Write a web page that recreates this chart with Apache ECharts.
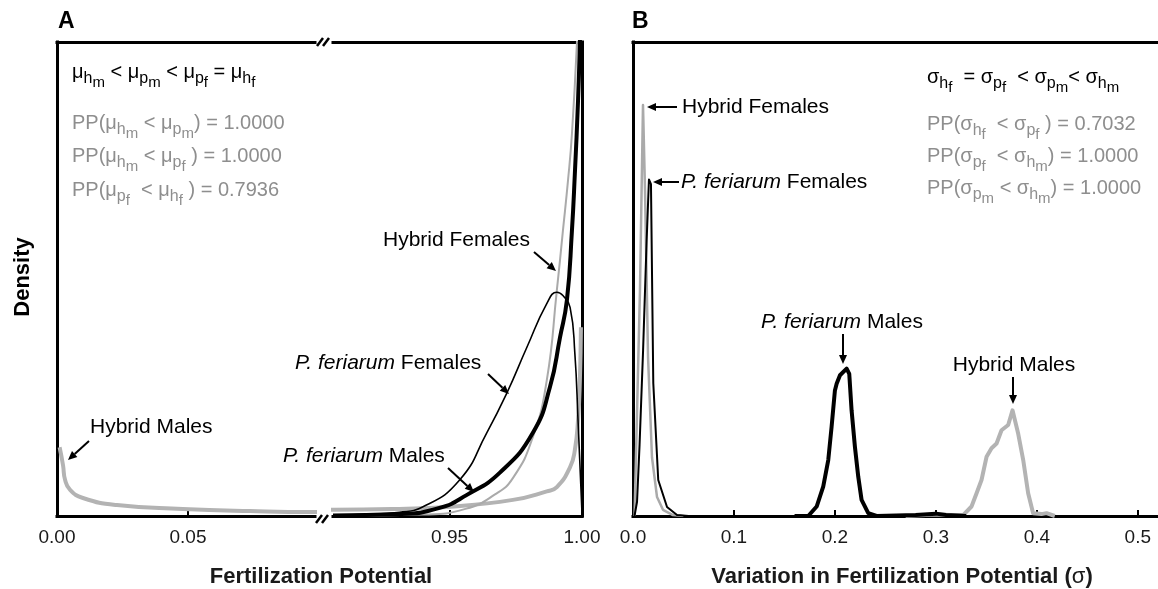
<!DOCTYPE html>
<html>
<head>
<meta charset="utf-8">
<title>Fertilization Potential</title>
<script src="https://cdn.jsdelivr.net/npm/echarts@6.0.0/dist/echarts.min.js"></script>
<style>
    html, body {margin: 0; padding: 0; background: #fff;}
    #main {width: 1158px; height: 589px;}
</style>
</head>
<body>
<div id="main"></div>
<script type="text/javascript">
// ---- data: [x, density] (density in % of panel height) ----
// panel A: fertilization potential
var hybridMalesA = [[0.001,14.5],[0.0023,10.7],[0.0031,7.6],[0.005,5.5],[0.0099,3.8],[0.0229,2.3],[0.048,1.5],[0.0737,1.05],[0.0973,0.85],
    [0.906,1.3],[0.9311,1.5],[0.9489,1.9],[0.9739,3.4],[0.9867,5.2],[0.9905,6.1],[0.9955,10.3],[0.9973,13.9],[0.9985,20.2],[0.9992,28.6],[0.9996,39.8]];
var hybridFemalesA = [[0.906,0.05],[0.94,0.3],[0.956,1.5],[0.967,4.5],[0.9739,8],[0.9814,16.6],[0.9867,28.6],[0.9905,47.6],[0.9928,60.2],
    [0.9947,70.7],[0.9962,80.6],[0.9981,100],[0.999,115]];
var feriarumFemalesA = [[0.906,0.1],[0.9159,0.3],[0.9311,0.8],[0.9398,1.9],[0.9538,7.6],[0.964,17.5],[0.9716,25.9],[0.9792,35.6],[0.9867,44.8],
    [0.9905,47.2],[0.9928,46.5],[0.9955,44],[0.9973,34.3],[0.9985,20.2],[1.0,0.6]];
var feriarumMalesA = [[0.906,0.1],[0.9311,0.4],[0.9462,1.7],[0.9564,4.4],[0.9689,9.1],[0.9814,17.5],[0.9879,27.2],[0.9917,37.7],[0.9943,45.5],
    [0.9962,60.2],[0.9973,72.2],[0.9985,87.6],[0.9992,99.8],[0.9996,110]];
// panel B: variation in fertilization potential (sigma)
var hybridFemalesB = [[0.0015,0],[0.0069,47.6],[0.0099,86.7],[0.0119,68.6],[0.0149,33.5],[0.0188,12.4],[0.0238,4],[0.0297,1.3],[0.0396,0.2],[0.05,0]];
var feriarumFemalesB = [[0.0015,0],[0.004,3],[0.0065,15],[0.01,35],[0.0135,58],[0.0158,71],[0.0178,70],[0.0201,28],[0.025,7.6],[0.0337,1.9],[0.0436,0.2],[0.055,0]];
var feriarumMalesB = [[0.16,0],[0.1736,0],[0.1819,2],[0.1884,6.2],[0.1934,11.8],[0.1967,18.8],[0.2,26.5],[0.2017,27.9],[0.205,29.7],[0.2116,31.1],
    [0.2142,30],[0.2165,22.3],[0.2198,14.6],[0.2231,8.3],[0.2264,3.4],[0.233,0.6],[0.2413,0],[0.28,0.2],[0.30,0.5],[0.31,0.2],[0.33,0]];
var hybridMalesB = [[0.27,0],[0.30,0.3],[0.315,0.2],[0.327,0.2],[0.3353,2],[0.3403,4.8],[0.3452,7.6],[0.3502,12.5],[0.3551,14.3],[0.3601,15.3],
    [0.365,18.1],[0.3716,19.2],[0.3759,22.3],[0.3815,17.4],[0.3865,11.8],[0.3914,4.8],[0.3963,0.6],[0.4046,0.4],[0.4096,0.6],[0.4178,0]];
// tick labels
var ticksALow = [0, 0.05];
var ticksAHigh = [0.95, 1.0];
var ticksB = [0, 0.1, 0.2, 0.3, 0.4, 0.5];

var F = "'Liberation Sans', Arial, sans-serif";
var GRAY_LINE = '#b3b3b3';
var GRAY_TEXT = '#8e8e8e';

var measure = document.createElement('canvas').getContext('2d');

// text with nested subscripts: {x} = subscript, [x] = sub-subscript
function mathText(spec, x0, base, color) {
    var sizes = [20, 16, 15], drop = [0, 5, 9];
    var out = [], x = x0, i = 0;
    while (i < spec.length) {
        var c = spec[i], txt, lvl, j;
        if (c === '{' || c === '[') {
            j = spec.indexOf(c === '{' ? '}' : ']', i);
            txt = spec.slice(i + 1, j); lvl = c === '{' ? 1 : 2; i = j + 1;
        } else {
            j = i;
            while (j < spec.length && spec[j] !== '{' && spec[j] !== '[') j++;
            txt = spec.slice(i, j); lvl = 0; i = j;
        }
        measure.font = sizes[lvl] + 'px ' + F;
        out.push({type: 'text', x: x, y: base + drop[lvl] - 0.35 * sizes[lvl], silent: true,
            style: {text: txt, fontSize: sizes[lvl], fontFamily: F, fill: color, align: 'left', verticalAlign: 'middle'}});
        x += measure.measureText(txt).width;
    }
    return out;
}

function arrow(x1, y1, x2, y2) {
    var a = Math.atan2(y2 - y1, x2 - x1), L = 9, W = 4;
    var bx = x2 - L * Math.cos(a), by = y2 - L * Math.sin(a);
    return [
        {type: 'line', silent: true, shape: {x1: x1, y1: y1, x2: bx, y2: by}, style: {stroke: '#000', lineWidth: 2}},
        {type: 'polygon', silent: true, shape: {points: [[x2, y2], [bx - W * Math.sin(a), by + W * Math.cos(a)], [bx + W * Math.sin(a), by - W * Math.cos(a)]]},
            style: {fill: '#000'}}
    ];
}

function label(x, y, ital, rest, align) {
    return {type: 'text', x: x, y: y, silent: true, style: {
        text: (ital ? '{i|' + ital + '}' : '') + '{n|' + rest + '}',
        align: align || 'left', verticalAlign: 'middle',
        rich: {
            i: {fontStyle: 'italic', fontSize: 21, fontFamily: F, fill: '#000'},
            n: {fontSize: 21, fontFamily: F, fill: '#000'}
        }
    }};
}

function brk(cx, cy) {
    var r = [];
    for (var k = 0; k < 2; k++) {
        var x = cx - 6 + k * 6;
        r.push({type: 'line', silent: true, shape: {x1: x, y1: cy + 4, x2: x + 6, y2: cy - 4}, style: {stroke: '#000', lineWidth: 2.5}});
    }
    return r;
}

function xBottom(grid, min, max, tickVals, labelVals, digits) {
    return {
        type: 'value', gridIndex: grid, position: 'bottom', min: min, max: max,
        axisLine: {show: true, onZero: false, lineStyle: {color: '#000', width: 3, cap: 'square'}},
        axisTick: {show: true, inside: true, length: 6, lineStyle: {color: '#000', width: 2}, customValues: tickVals},
        axisLabel: {show: true, margin: 12, fontSize: 19, fontFamily: F, color: '#1a1a1a', customValues: labelVals,
            formatter: function (v) { return v.toFixed(digits); }},
        splitLine: {show: false}
    };
}
function xTop(grid, min, max) {
    return {
        type: 'value', gridIndex: grid, position: 'top', min: min, max: max,
        axisLine: {show: true, onZero: false, lineStyle: {color: '#000', width: 3, cap: 'square'}},
        axisTick: {show: false}, axisLabel: {show: false}, splitLine: {show: false}
    };
}
function yAx(grid, pos, showLine) {
    return {
        type: 'value', gridIndex: grid, position: pos, min: 0, max: 100,
        axisLine: {show: showLine, onZero: false, lineStyle: {color: '#000', width: 3, cap: 'square'}},
        axisTick: {show: false}, axisLabel: {show: false}, splitLine: {show: false}
    };
}
function line(data, xi, yi, color, width, smooth) {
    return {
        type: 'line', data: data, xAxisIndex: xi, yAxisIndex: yi, showSymbol: false, symbol: 'none',
        smooth: smooth, clip: true, silent: true, animation: false,
        lineStyle: {color: color, width: width, join: 'round'}
    };
}

var myChart = echarts.init(document.getElementById('main'));

var graphics = [];
graphics.push({type: 'text', x: 58, y: 22, style: {text: 'A', fontSize: 23, fontWeight: 'bold', fontFamily: F, fill: '#000', verticalAlign: 'middle'}});
graphics.push({type: 'text', x: 632, y: 22, style: {text: 'B', fontSize: 23, fontWeight: 'bold', fontFamily: F, fill: '#000', verticalAlign: 'middle'}});
graphics.push({type: 'text', x: 23, y: 277, rotation: Math.PI / 2, style: {text: 'Density', fontSize: 22, fontWeight: 'bold', fontFamily: F, fill: '#000', align: 'center', verticalAlign: 'middle'}});
graphics.push({type: 'text', x: 321, y: 577, style: {text: 'Fertilization Potential', fontSize: 22, fontWeight: 'bold', fontFamily: F, fill: '#1a1a1a', align: 'center', verticalAlign: 'middle'}});
graphics.push({type: 'text', x: 902, y: 577, style: {text: '{b|Variation in Fertilization Potential (}{s|σ}{b|)}', align: 'center', verticalAlign: 'middle',
    rich: {b: {fontSize: 22, fontWeight: 'bold', fontFamily: F, fill: '#1a1a1a'}, s: {fontSize: 22, fontFamily: F, fill: '#1a1a1a'}}}});

// formulas
graphics = graphics.concat(mathText('μ{h}[m] < μ{p}[m] < μ{p}[f] = μ{h}[f]', 72, 79, '#000'));
graphics = graphics.concat(mathText('PP(μ{h}[m] < μ{p}[m]) = 1.0000', 72, 130, GRAY_TEXT));
graphics = graphics.concat(mathText('PP(μ{h}[m] < μ{p}[f] ) = 1.0000', 72, 163, GRAY_TEXT));
graphics = graphics.concat(mathText('PP(μ{p}[f]  < μ{h}[f] ) = 0.7936', 72, 197, GRAY_TEXT));
graphics = graphics.concat(mathText('σ{h}[f]  = σ{p}[f]  < σ{p}[m]< σ{h}[m]', 927, 84, '#000'));
graphics = graphics.concat(mathText('PP(σ{h}[f]  < σ{p}[f] ) = 0.7032', 927, 131, GRAY_TEXT));
graphics = graphics.concat(mathText('PP(σ{p}[f]  < σ{h}[m]) = 1.0000', 927, 163, GRAY_TEXT));
graphics = graphics.concat(mathText('PP(σ{p}[m] < σ{h}[m]) = 1.0000', 927, 195, GRAY_TEXT));

// curve labels and arrows
graphics.push(label(90, 427, '', 'Hybrid Males'));
graphics.push(label(283, 456, 'P. feriarum', ' Males'));
graphics.push(label(295, 363, 'P. feriarum', ' Females'));
graphics.push(label(383, 240, '', 'Hybrid Females'));
graphics.push(label(682, 107, '', 'Hybrid Females'));
graphics.push(label(681, 182, 'P. feriarum', ' Females'));
graphics.push(label(842, 322, 'P. feriarum', ' Males', 'center'));
graphics.push(label(1014, 365, '', 'Hybrid Males', 'center'));
graphics = graphics.concat(arrow(89, 441, 68, 460), arrow(448, 468, 474, 492), arrow(488, 374, 509, 394), arrow(534, 252, 556, 271),
    arrow(677, 107, 647, 107), arrow(679, 182, 653, 182), arrow(843, 334, 843, 364), arrow(1013, 377, 1013, 404));

// axis breaks
graphics = graphics.concat(brk(323, 42), brk(322, 519));

var option = {
    backgroundColor: '#fff',
    animation: false,
    grid: [
        {left: 57, top: 42, width: 258, height: 474},
        {left: 333, top: 42, width: 249, height: 474},
        {left: 633, top: 42, right: 0, height: 474}
    ],
    xAxis: [
        xBottom(0, 0, 0.0985, [0.05], ticksALow, 2),
        xTop(0, 0, 0.0985),
        xBottom(1, 0.906, 1.0, [0.95], ticksAHigh, 2),
        xTop(1, 0.906, 1.0),
        xBottom(2, 0, 0.52, [0.1, 0.2, 0.3, 0.4, 0.5], ticksB, 1),
        xTop(2, 0, 0.52)
    ],
    yAxis: [yAx(0, 'left', true), yAx(1, 'right', true), yAx(2, 'left', true)],
    series: [
        line(hybridMalesA, 0, 0, GRAY_LINE, 4, 0.5),
        line(hybridMalesA, 2, 1, GRAY_LINE, 4, 0.5),
        line(hybridFemalesA, 2, 1, '#aaaaaa', 2, 0.5),
        line(feriarumFemalesA, 2, 1, '#000', 1.6, 0.5),
        line(feriarumMalesA, 2, 1, '#000', 4, 0.5),
        line(hybridMalesB, 4, 2, GRAY_LINE, 4, false),
        line(hybridFemalesB, 4, 2, '#aaaaaa', 2.5, false),
        line(feriarumFemalesB, 4, 2, '#000', 2, false),
        line(feriarumMalesB, 4, 2, '#000', 4, false)
    ],
    graphic: graphics
};
myChart.setOption(option);
</script>
</body>
</html>
